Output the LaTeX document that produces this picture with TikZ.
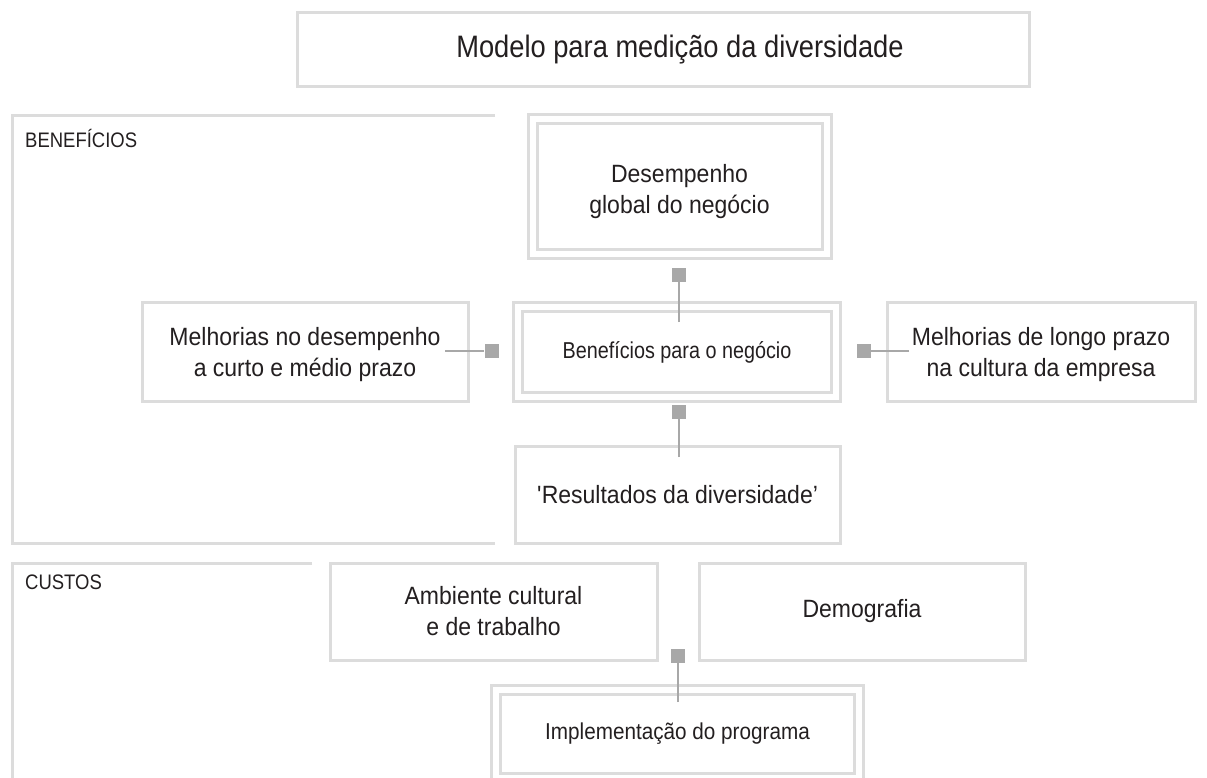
\documentclass[tikz,border=0pt]{standalone}
\usepackage{fontspec}
\setmainfont{Liberation Sans}
\newfontfamily\bodyf[FakeStretch=0.92]{Liberation Sans}
\newfontfamily\benf[FakeStretch=0.86]{Liberation Sans}
\newfontfamily\titlef[FakeStretch=0.88]{Liberation Sans}
\newfontfamily\regf[FakeStretch=0.88]{Liberation Sans}
\newfontfamily\impf[FakeStretch=0.9]{Liberation Sans}
\definecolor{frame}{HTML}{DCDCDC}
\definecolor{conn}{HTML}{A8A8A8}
\definecolor{ink}{HTML}{231F20}
\begin{document}
\begin{tikzpicture}[x=1pt,y=-1pt,
  box/.style={draw=frame, line width=3pt, fill=white, inner sep=0pt, align=center, text=ink,
    font=\bodyf\fontsize{25}{31}\selectfont},
  dbox/.style={box, double=white, double distance=6pt},
  region/.style={draw=frame, line width=3pt},
  regionlabel/.style={anchor=west, inner sep=0pt, text=ink, font=\regf\fontsize{21}{24}\selectfont},
  sq/.style={fill=conn, minimum size=14pt, inner sep=0pt},
  conline/.style={draw=conn, line width=2.8pt}]
\useasboundingbox[fill=white] (0,0) rectangle (1207,778);

% regions
\draw[region] (495,116) -- (12,116) -- (12,543) -- (495,543);
\node[regionlabel] (lben) at (25,138) {BENEFÍCIOS};
\draw[region] (312,563) -- (12,563) -- (12,790);
\node[regionlabel] (lcus) at (25,582) {CUSTOS};

% title
\node[box, minimum width=732pt, minimum height=74pt, font=\titlef\fontsize{31}{36}\selectfont] (title) at (663,50)
  {\hspace*{34pt}Modelo para medição da diversidade};

% benefits
\node[dbox, minimum width=294pt, minimum height=134pt] (glob) at (679.5,186.5) {\rule{0pt}{28pt}Desempenho\\global do negócio};
\node[dbox, minimum width=318.5pt, minimum height=89.5pt, font=\benf\fontsize{23}{27}\selectfont] (ben) at (677,352) {Benefícios para o negócio};
\node[box, minimum width=326pt, minimum height=99pt] (mel) at (305,351.5) {\rule{0pt}{24pt}Melhorias no desempenho\\a curto e médio prazo};
\node[box, minimum width=308pt, minimum height=99pt] (lon) at (1041,351.5) {\rule{0pt}{24pt}Melhorias de longo prazo\\na cultura da empresa};
\node[box, minimum width=325pt, minimum height=97pt] (res) at (677.5,494.5) {\textquotesingle Resultados da diversidade’};

% costs
\node[box, minimum width=327pt, minimum height=97pt] (amb) at (493.5,611.5) {Ambiente cultural\\e de trabalho};
\node[box, minimum width=326pt, minimum height=97pt] (dem) at (862,611.5) {Demografia};
\node[dbox, minimum width=363pt, minimum height=88pt, font=\impf\fontsize{23}{27}\selectfont] (imp) at (677.5,733.5) {Implementação do programa};

% connector squares and lines
\node[sq] (sqL) at (491.5,351) {};
\node[sq] (sqR) at (864,351) {};
\node[sq] (sqT) at (679,275) {};
\node[sq] (sqB) at (679,412) {};
\node[sq] (sqC) at (678,656) {};

\coordinate (cL) at (445,351);
\coordinate (cR) at (909,351);
\coordinate (cT) at (679,322);
\coordinate (cB) at (679,457);
\coordinate (cC) at (678,702);

\draw[conline] (cL) -- (sqL.west);
\draw[conline] (cR) -- (sqR.east);
\draw[conline] (cT) -- (sqT.south);
\draw[conline] (cB) -- (sqB.south);
\draw[conline] (cC) -- (sqC.south);
\end{tikzpicture}
\end{document}
